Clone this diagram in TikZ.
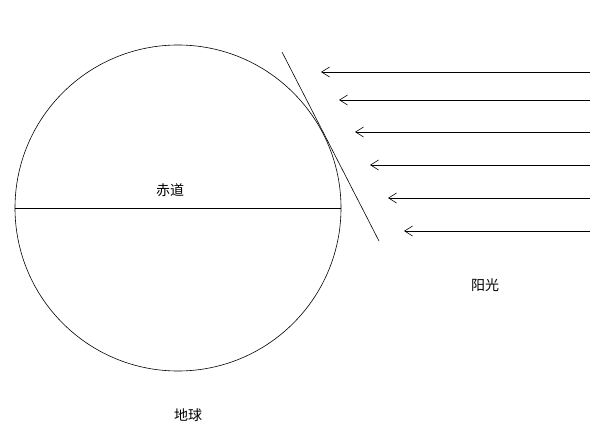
\documentclass[tikz,border=0pt]{standalone}
\usepackage{fontspec}
\newfontfamily\cjk{Noto Sans CJK SC}
\usetikzlibrary{arrows.meta}
\begin{document}
\begin{tikzpicture}[x=1pt,y=-1pt,
  lbl/.style={font=\cjk\fontsize{14}{16}\selectfont},
  ray/.style={-{Straight Barb[length=8pt,width=10pt]},line width=0.6pt}]
\useasboundingbox (0,0) rectangle (611,428);
\node[circle,draw,minimum size=326pt,inner sep=0pt,line width=0.6pt] (earth) at (178,208) {};
\draw[line width=0.6pt] (earth.west) -- (earth.east);
\coordinate (t1) at (282,52); \coordinate (t2) at (379,241);
\draw[line width=0.6pt] (t1) -- (t2);
\foreach \y/\x [count=\i] in {72/321,100/339,132/355,165/370,198/388,231/404}{
  \coordinate (s\i) at (590,\y); \coordinate (e\i) at (\x,\y);
  \draw[ray] (s\i) -- (e\i);
}
\node[lbl] (eq) at (170,190) {赤道};
\node[lbl] (sun) at (485,285) {阳光};
\node[lbl] (ea) at (188,415) {地球};
\end{tikzpicture}
\end{document}
